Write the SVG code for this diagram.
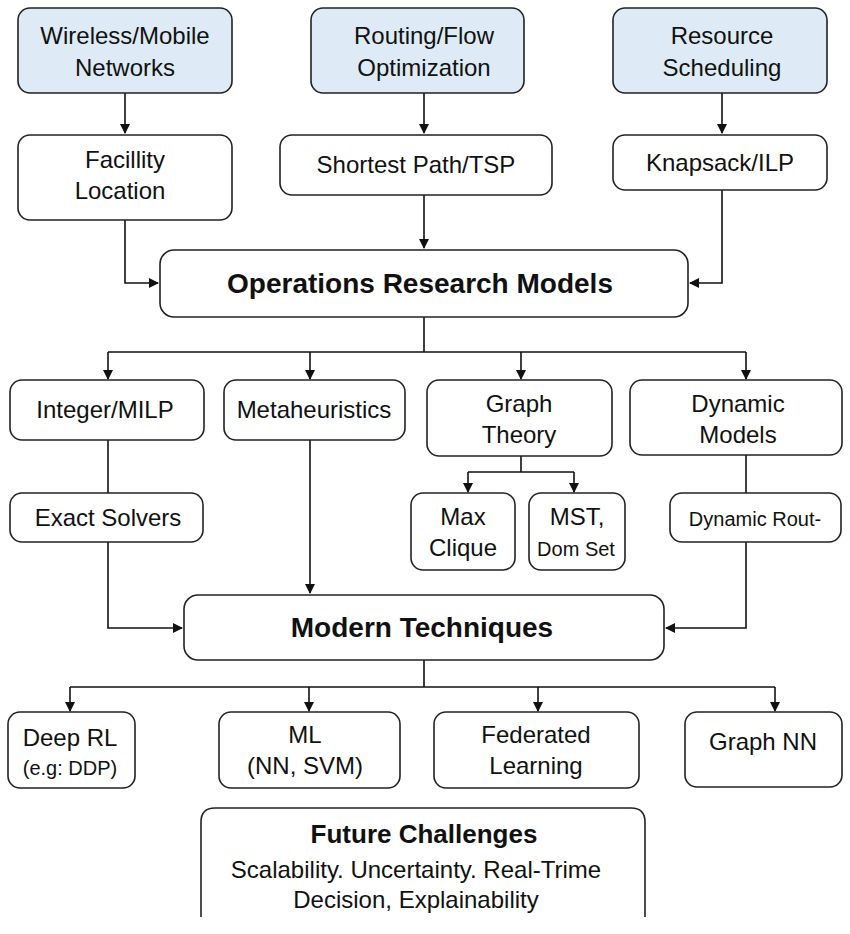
<svg xmlns="http://www.w3.org/2000/svg" width="850" height="934" viewBox="0 0 850 934">
<defs>
<marker id="ah" markerWidth="10" markerHeight="10" refX="9" refY="5" orient="auto" markerUnits="userSpaceOnUse"><path d="M0,0 L10,5 L0,10 z" fill="#111"/></marker>
<style>
.b{fill:#fff;stroke:#222;stroke-width:1.6}
.h{fill:#deebf7;stroke:#222;stroke-width:1.6}
.t{font-family:"Liberation Sans",Arial,sans-serif;font-size:24px;fill:#111;text-anchor:middle}
.s{font-size:20px}
.bold{font-weight:bold;font-size:28px}
.c{fill:none;stroke:#111;stroke-width:1.6}
.a{marker-end:url(#ah)}
</style>
</defs>
<rect width="850" height="934" fill="#fff"/>
<g id="connectors">
<path class="c a" d="M125,93 V133"/>
<path class="c a" d="M424,93 V133"/>
<path class="c a" d="M722,93 V133"/>
<path class="c a" d="M125,220 V283 H158"/>
<path class="c a" d="M424,195 V248"/>
<path class="c a" d="M722,190 V283 H690"/>
<path class="c" d="M424,317 V352 M108,352 H746"/>
<path class="c a" d="M108,352 V379"/>
<path class="c a" d="M310,352 V379"/>
<path class="c a" d="M521,352 V379"/>
<path class="c a" d="M746,352 V379"/>
<path class="c" d="M108,440 V493"/>
<path class="c a" d="M108,542 V628 H182"/>
<path class="c a" d="M310,440 V593"/>
<path class="c" d="M521,456 V472 M468,472 H574"/>
<path class="c a" d="M468,472 V492"/>
<path class="c a" d="M574,472 V492"/>
<path class="c" d="M746,455 V493"/>
<path class="c a" d="M746,542 V628 H666"/>
<path class="c" d="M424,660 V687 M70,687 H775"/>
<path class="c a" d="M70,687 V711"/>
<path class="c a" d="M309,687 V711"/>
<path class="c a" d="M538,687 V711"/>
<path class="c a" d="M775,687 V711"/>
</g>
<g id="wireless"><rect class="h" x="18" y="8" width="214" height="85" rx="12"/><text class="t" x="125" y="44">Wireless/Mobile</text><text class="t" x="125" y="76">Networks</text></g>
<g id="routing"><rect class="h" x="311" y="8" width="213" height="85" rx="12"/><text class="t" x="424" y="44">Routing/Flow</text><text class="t" x="424" y="76">Optimization</text></g>
<g id="resource"><rect class="h" x="613" y="8" width="214" height="85" rx="12"/><text class="t" x="722" y="44">Resource</text><text class="t" x="722" y="76">Scheduling</text></g>
<g id="facility"><rect class="b" x="18" y="135" width="214" height="85" rx="12"/><text class="t" x="125" y="168">Facillity</text><text class="t" x="120" y="199">Location</text></g>
<g id="shortest"><rect class="b" x="280" y="135" width="272" height="60" rx="12"/><text class="t" x="416" y="173">Shortest Path/TSP</text></g>
<g id="knapsack"><rect class="b" x="613" y="135" width="214" height="55" rx="12"/><text class="t" x="720" y="171">Knapsack/ILP</text></g>
<g id="orm"><rect class="b" x="160" y="250" width="528" height="67" rx="14"/><text class="t bold" x="420" y="293">Operations Research Models</text></g>
<g id="integer"><rect class="b" x="10" y="380" width="194" height="60" rx="12"/><text class="t" x="105" y="418">Integer/MILP</text></g>
<g id="meta"><rect class="b" x="224" y="380" width="181" height="60" rx="12"/><text class="t" x="314" y="418">Metaheuristics</text></g>
<g id="graph"><rect class="b" x="427" y="380" width="185" height="76" rx="12"/><text class="t" x="519" y="412">Graph</text><text class="t" x="519" y="443">Theory</text></g>
<g id="dynamic"><rect class="b" x="630" y="380" width="212" height="75" rx="12"/><text class="t" x="738" y="412">Dynamic</text><text class="t" x="738" y="443">Models</text></g>
<g id="exact"><rect class="b" x="10" y="493" width="193" height="49" rx="12"/><text class="t" x="108" y="526">Exact Solvers</text></g>
<g id="maxclique"><rect class="b" x="411" y="493" width="104" height="77" rx="12"/><text class="t" x="463" y="525">Max</text><text class="t" x="463" y="556">Clique</text></g>
<g id="mst"><rect class="b" x="529" y="493" width="96" height="77" rx="12"/><text class="t" x="577" y="525">MST,</text><text class="t s" x="576" y="556">Dom Set</text></g>
<g id="dynrout"><rect class="b" x="670" y="493" width="171" height="49" rx="12"/><text class="t s" x="755" y="526">Dynamic Rout-</text></g>
<g id="modern"><rect class="b" x="184" y="595" width="480" height="65" rx="14"/><text class="t bold" x="422" y="637">Modern Techniques</text></g>
<g id="deeprl"><rect class="b" x="8" y="712" width="127" height="76" rx="12"/><text class="t" x="70" y="746">Deep RL</text><text class="t s" x="70" y="775">(e.g: DDP)</text></g>
<g id="ml"><rect class="b" x="219" y="712" width="181" height="76" rx="12"/><text class="t" x="305" y="743">ML</text><text class="t" x="305" y="774">(NN, SVM)</text></g>
<g id="federated"><rect class="b" x="434" y="712" width="205" height="76" rx="12"/><text class="t" x="536" y="743">Federated</text><text class="t" x="536" y="774">Learning</text></g>
<g id="graphnn"><rect class="b" x="685" y="712" width="157" height="75" rx="12"/><text class="t" x="763" y="750">Graph NN</text></g>
<g id="future"><path class="b" d="M201,917 V822 Q201,808 215,808 H631 Q645,808 645,822 V917"/><text class="t" style="font-weight:bold;font-size:26px" x="424" y="843">Future Challenges</text><text class="t" x="416" y="878">Scalability. Uncertainty. Real-Trime</text><text class="t" x="416" y="908">Decision, Explainability</text></g>
</svg>
